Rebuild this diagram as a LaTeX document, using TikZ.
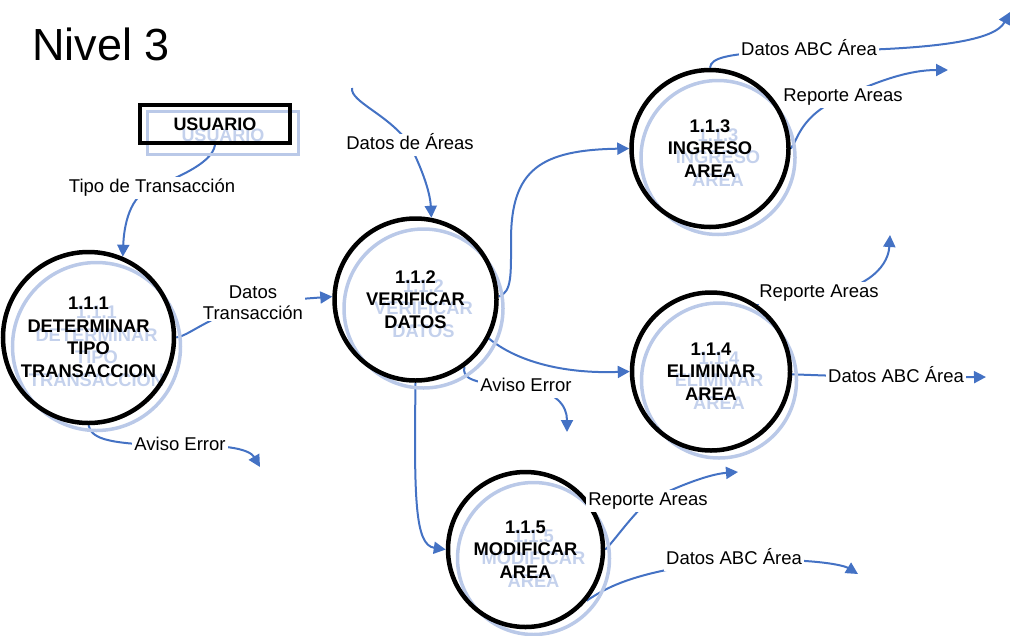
\documentclass[tikz,border=0pt]{standalone}
\usepackage{fontspec}
\setmainfont{Liberation Sans}
\usetikzlibrary{arrows.meta}

\definecolor{flowblue}{RGB}{68,114,196}
\definecolor{shadowblue}{RGB}{186,201,232}
\definecolor{echoblue}{RGB}{196,209,236}

\pgfdeclarelayer{bg}
\pgfsetlayers{bg,main}

\tikzset{
  bubble/.style={circle, draw=black, line width=4.5pt, inner sep=0pt, align=center,
    font=\bfseries\fontsize{18.3}{22.5}\selectfont},
  bubbleshadow/.style={circle, draw=shadowblue, line width=3.5pt, inner sep=0pt},
  shadowtext/.style={text=echoblue, align=center, inner sep=0pt,
    font=\bfseries\fontsize{18.3}{22.5}\selectfont},
  entity/.style={rectangle, draw=black, line width=4pt, inner sep=0pt,
    font=\bfseries\fontsize{18}{22}\selectfont},
  entityshadow/.style={rectangle, draw=shadowblue, line width=3pt, inner sep=0pt},
  flow/.style={draw=flowblue, line width=2pt, -{Triangle[length=12pt,width=12pt]}},
  flowlabel/.style={fill=white, inner sep=2pt, align=center,
    font=\fontsize{18.5}{21}\selectfont},
  oneline/.style={flowlabel, text height=13.5pt, text depth=4pt},
}

% process bubble with its pale offset echo: name, x, y, diameter, text
\newcommand\procbubble[5]{%
  \node[bubbleshadow, minimum size={#4-3pt}] (#1-ring) at ({#2+8},{#3+9}) {};
  \node[shadowtext] (#1-echo) at ({#2+8},{#3+9}) {#5};
  \node[bubble, minimum size=#4] (#1) at (#2,#3) {#5};
}

\begin{document}
\begin{tikzpicture}[x=1pt,y=-1pt]
\useasboundingbox (0,0) rectangle (1016,635);

% title
\node[anchor=base west, inner sep=0pt, font=\fontsize{45}{48}\selectfont] (title) at (32,60) {Nivel 3};

% external entity
\node[entityshadow, minimum width=151pt, minimum height=43pt] (usr-ring) at (222.5,132.5) {};
\node[text=echoblue, inner sep=0pt, font=\bfseries\fontsize{18}{22}\selectfont] (usr-echo) at (223,135) {USUARIO};
\node[entity, minimum width=150pt, minimum height=38pt] (usr) at (215,124) {USUARIO};

% processes
\procbubble{p1}{88.5}{337.5}{171pt}{1.1.1\\DETERMINAR\\TIPO\\TRANSACCION}
\procbubble{p2}{415.5}{299.5}{162pt}{1.1.2\\VERIFICAR\\DATOS}
\procbubble{p3}{710}{148.5}{157pt}{1.1.3\\INGRESO\\AREA}
\procbubble{p4}{711}{371.5}{158pt}{1.1.4\\ELIMINAR\\AREA}
\procbubble{p5}{525.5}{549.5}{155pt}{1.1.5\\MODIFICAR\\AREA}

% flow labels
\node[oneline] (l_tipo) at (152,188) {Tipo de Transacción};
\node[oneline] (l_err1) at (180,446) {Aviso Error};
\node[flowlabel] (l_dt) at (253,302.5) {Datos\\Transacción};
\node[oneline] (l_dareas) at (410,145) {Datos de Áreas};
\node[oneline] (l_err2) at (526,387) {Aviso Error};
\node[oneline] (l_abc3) at (809,51) {Datos ABC Área};
\node[oneline] (l_rep3) at (843,97) {Reporte Areas};
\node[oneline] (l_rep4) at (819,293) {Reporte Areas};
\node[oneline] (l_abc4) at (896,378) {Datos ABC Área};
\node[oneline] (l_rep5) at (648,501) {Reporte Areas};
\node[oneline] (l_abc5) at (734,560) {Datos ABC Área};

% free ends of flows
\coordinate (src) at (352,88);
\coordinate (e1) at (260,467);
\coordinate (e2) at (567,432);
\coordinate (e3) at (1010,12);
\coordinate (e4) at (948,70);
\coordinate (e5) at (890,235);
\coordinate (e6) at (986,377);
\coordinate (e7) at (738,472);
\coordinate (e8) at (858,574);

\begin{pgfonlayer}{bg}
  \draw[flow] (usr.south) .. controls (212,165) and (170,180) .. (l_tipo.center)
              .. controls (130,195) and (124,225) .. (p1.67);
  \draw[flow] (p1.south) .. controls (92,440) and (110,444) .. (l_err1.center)
              .. controls (230,444) and (250,450) .. (e1);
  \draw[flow] (p1.east) .. controls (190,335) and (200,322) .. (l_dt.center) -- (p2.178);
  \draw[flow] (src) .. controls (350,102) and (390,115) .. (l_dareas.center)
              .. controls (420,165) and (430,190) .. (p2.79);
  \draw[flow] (p2.2) .. controls (512,292) and (511,275) .. (511,240)
              .. controls (511,170) and (540,150) .. (p3.west);
  \draw[flow] (p2.-28) .. controls (515,360) and (560,374) .. (p4.west);
  \draw[flow] (p2.-54) .. controls (462,378) and (470,384) .. (l_err2.center)
              .. controls (556,392) and (567,405) .. (e2);
  \draw[flow] (p2.south) .. controls (414,500) and (415,545) .. (p5.west);
  \draw[flow] (p3.north) .. controls (711,58) and (725,52) .. (l_abc3.center)
              .. controls (940,50) and (995,40) .. (e3);
  \draw[flow] (p3.east) .. controls (798,140) and (800,115) .. (l_rep3.center)
              .. controls (880,80) and (910,70) .. (e4);
  \draw[flow] (p4.55) .. controls (757,300) and (770,295) .. (l_rep4.center)
              .. controls (860,292) and (888,270) .. (e5);
  \draw[flow] (p4.-2) -- (l_abc4.center) -- (e6);
  \draw[flow] (p5.east) .. controls (615,540) and (628,520) .. (l_rep5.center)
              .. controls (680,485) and (710,474) .. (e7);
  \draw[flow] (p5.-40) .. controls (610,585) and (640,570) .. (l_abc5.center)
              .. controls (820,558) and (845,566) .. (e8);
\end{pgfonlayer}
\end{tikzpicture}
\end{document}
